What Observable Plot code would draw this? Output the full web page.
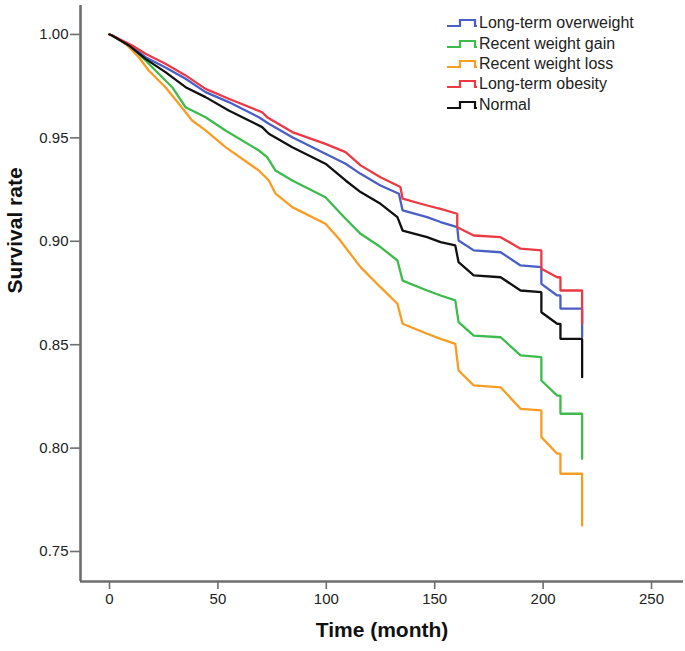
<!DOCTYPE html>
<html>
<head>
<meta charset="utf-8">
<script src="https://cdn.jsdelivr.net/npm/d3@7"></script>
<script src="https://cdn.jsdelivr.net/npm/@observablehq/plot@0.6"></script>
<style>
  html, body { margin: 0; padding: 0; background: #fff; }
  #wrap { position: relative; width: 685px; height: 651px; font-family: "Liberation Sans", Arial, sans-serif; }
  #legend { position: absolute; left: 446px; top: 13px; font-size: 16px; color: #222; }
  #legend .row { display: flex; align-items: center; height: 20.4px; white-space: nowrap; }
  #legend svg { width: 33px; height: 12px; }
</style>
</head>
<body>
<div id="wrap"></div>
<script>
// Kaplan-Meier curves (time in months, survival rate).
// Repeated times mark the visible vertical drops of the step curves.
const groups = ["Long-term overweight", "Recent weight gain", "Recent weight loss", "Long-term obesity", "Normal"];
const colors = ["#4a5fc6", "#3dbb4d", "#f89c22", "#ec3a44", "#111111"];

const timeOverweight = [0, 1.2, 10.5, 16.6, 25.8, 35.1, 44.3, 55.0, 68.9, 73.5, 84.3, 99.6, 108.9, 115.8, 125.0, 133.5, 135.2, 146.5, 152.7, 160.4, 161.0, 168.0, 180.4, 189.6, 199.2, 199.2, 206.5, 208.0, 208.0, 218.0, 218.0];
const survOverweight = [1, 0.9995, 0.9940, 0.9890, 0.9840, 0.9786, 0.9721, 0.9673, 0.9600, 0.9568, 0.9503, 0.9423, 0.9375, 0.9326, 0.9270, 0.9230, 0.9149, 0.9117, 0.9093, 0.9068, 0.9004, 0.8956, 0.8947, 0.8883, 0.8875, 0.8794, 0.8738, 0.8738, 0.8674, 0.8674, 0.8536];

const timeGain = [0, 1.2, 8.9, 16.6, 21.2, 28.9, 35.1, 44.3, 53.5, 68.9, 72.7, 76.6, 84.3, 99.6, 108.9, 115.8, 125.0, 132.8, 135.2, 146.5, 152.7, 159.5, 161.0, 168.0, 180.4, 189.6, 199.2, 199.2, 206.5, 208.0, 208.0, 218.0, 218.0];
const survGain = [1, 0.9995, 0.9947, 0.9874, 0.9826, 0.9745, 0.9648, 0.9600, 0.9536, 0.9439, 0.9407, 0.9342, 0.9294, 0.9213, 0.9109, 0.9036, 0.8972, 0.8907, 0.8810, 0.8762, 0.8738, 0.8714, 0.8609, 0.8544, 0.8536, 0.8448, 0.8440, 0.8327, 0.8254, 0.8254, 0.8166, 0.8166, 0.7948];

const timeLoss = [0, 1.2, 7.4, 13.5, 18.1, 25.8, 32.0, 38.1, 44.3, 53.5, 68.9, 73.5, 76.6, 84.3, 99.6, 105.8, 115.8, 125.0, 132.8, 135.2, 146.5, 152.7, 159.5, 161.0, 168.0, 180.4, 189.6, 199.2, 199.2, 206.5, 208.0, 208.0, 218.0, 218.0];
const survLoss = [1, 0.9995, 0.9955, 0.9890, 0.9826, 0.9745, 0.9665, 0.9584, 0.9536, 0.9455, 0.9342, 0.9294, 0.9230, 0.9165, 0.9085, 0.9012, 0.8875, 0.8778, 0.8698, 0.8601, 0.8553, 0.8528, 0.8504, 0.8375, 0.8303, 0.8294, 0.8190, 0.8182, 0.8053, 0.7973, 0.7973, 0.7876, 0.7876, 0.7626];

const timeObesity = [0, 1.2, 10.5, 16.6, 25.8, 35.1, 44.3, 55.0, 70.4, 72.7, 84.3, 99.6, 108.9, 115.8, 125.0, 134.2, 135.2, 146.5, 152.7, 160.4, 160.4, 168.0, 180.4, 189.6, 199.2, 199.2, 206.5, 208.0, 208.0, 218.0, 218.0];
const survObesity = [1, 0.9995, 0.9947, 0.9907, 0.9858, 0.9802, 0.9737, 0.9689, 0.9624, 0.9600, 0.9528, 0.9471, 0.9431, 0.9367, 0.9310, 0.9262, 0.9206, 0.9173, 0.9157, 0.9133, 0.9068, 0.9028, 0.9020, 0.8964, 0.8956, 0.8867, 0.8826, 0.8826, 0.8762, 0.8762, 0.8601];

const timeNormal = [0, 1.2, 8.9, 16.6, 25.8, 35.1, 44.3, 55.0, 70.4, 73.5, 84.3, 99.6, 108.9, 115.8, 125.0, 132.8, 135.2, 146.5, 152.7, 159.5, 161.0, 168.0, 180.4, 189.6, 199.2, 199.2, 206.5, 208.0, 208.0, 218.0, 218.0];
const survNormal = [1, 0.9995, 0.9947, 0.9882, 0.9818, 0.9745, 0.9697, 0.9632, 0.9552, 0.9520, 0.9455, 0.9375, 0.9294, 0.9238, 0.9181, 0.9117, 0.9052, 0.9020, 0.8996, 0.8980, 0.8899, 0.8835, 0.8826, 0.8762, 0.8754, 0.8657, 0.8601, 0.8601, 0.8528, 0.8528, 0.8343];

const xTicks = [0, 50, 100, 150, 200, 250];
const yTicks = [0.75, 0.80, 0.85, 0.90, 0.95, 1.00];

const series = [
  [timeOverweight, survOverweight],
  [timeGain, survGain],
  [timeLoss, survLoss],
  [timeObesity, survObesity],
  [timeNormal, survNormal]
];
const tables = series.map(([t, s], i) => t.map((d, j) => ({group: groups[i], time: d, surv: s[j]})));

const xMin = -13.38, xMax = 264.76, yMin = 0.7355, yMax = 1.014;
const axisGrey = "#6e6e6e";

const chart = Plot.plot({
  width: 685,
  height: 651,
  marginLeft: 80,
  marginRight: 2,
  marginTop: 5,
  marginBottom: 70,
  style: {fontFamily: "'Liberation Sans', Arial, sans-serif", fontSize: "15px", color: "#222", background: "#fff"},
  x: {domain: [xMin, xMax], axis: null},
  y: {domain: [yMin, yMax], axis: null},
  marks: [
    ...tables.map((t, i) => Plot.line(t, {x: "time", y: "surv", curve: "linear", stroke: colors[i], strokeWidth: 2.3, strokeLinejoin: "miter"})),
    Plot.axisX({ticks: xTicks, tickFormat: d => d, tickSize: 8, tickPadding: 4, stroke: axisGrey, strokeWidth: 1.6, fontSize: 15, fill: "#222", label: null}),
    Plot.axisY({ticks: yTicks, tickFormat: d3.format(".2f"), tickSize: 10, tickPadding: 2, stroke: axisGrey, strokeWidth: 1.6, fontSize: 15, fill: "#222", label: null}),
    Plot.ruleX([xMin], {stroke: axisGrey, strokeWidth: 2.6}),
    Plot.ruleY([yMin], {stroke: axisGrey, strokeWidth: 2.6}),
    Plot.text(["Survival rate"], {frameAnchor: "left", dx: -65, rotate: -90, fontSize: 21, fontWeight: "bold", fill: "#111"}),
    Plot.text(["Time (month)"], {frameAnchor: "bottom", dy: 55, fontSize: 21, fontWeight: "bold", fill: "#111"})
  ]
});

const wrap = document.getElementById("wrap");
wrap.appendChild(chart);

const legend = document.createElement("div");
legend.id = "legend";
groups.forEach((g, i) => {
  const row = document.createElement("div");
  row.className = "row";
  row.innerHTML = `<svg viewBox="0 0 33 12"><path d="M1,9 H14 V3 H29 V9 H31" fill="none" stroke="${colors[i]}" stroke-width="2.2"/></svg><span>${g}</span>`;
  legend.appendChild(row);
});
wrap.appendChild(legend);
</script>
</body>
</html>
